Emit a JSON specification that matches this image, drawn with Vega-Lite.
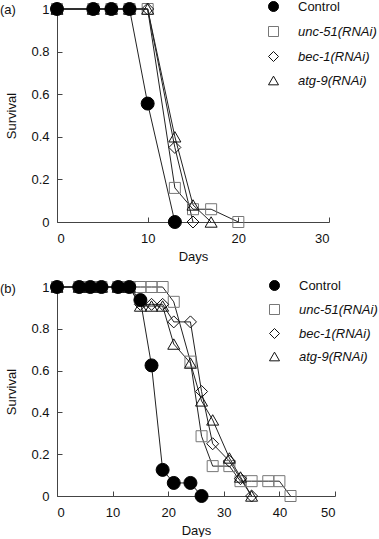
{
  "$schema": "https://vega.github.io/schema/vega-lite/v6.json",
  "padding": {"left": 0, "top": 0, "right": 0, "bottom": 0},
  "spacing": 15,
  "config": {
    "font": "Liberation Sans",
    "view": {"stroke": null},
    "axis": {
      "grid": false,
      "domainColor": "#444",
      "tickColor": "#444",
      "tickSize": -5,
      "labelFontSize": 13,
      "titleFontSize": 13,
      "labelColor": "#111",
      "titleColor": "#111",
      "titleFontWeight": "normal"
    },
    "axisX": {"labelPadding": 15, "titlePadding": 5},
    "axisY": {"labelPadding": 13, "titlePadding": 12},
    "legend": {
      "labelFontSize": 13,
      "labelColor": "#111",
      "padding": 0
    },
    "title": {"fontSize": 13, "fontWeight": "normal", "color": "#111"}
  },
  "datasets": {
    "surv": [
      {"panel": "a", "series": "unc-51(RNAi)", "day": 0, "survival": 1},
      {"panel": "a", "series": "unc-51(RNAi)", "day": 4, "survival": 1},
      {"panel": "a", "series": "unc-51(RNAi)", "day": 6, "survival": 1},
      {"panel": "a", "series": "unc-51(RNAi)", "day": 8, "survival": 1},
      {"panel": "a", "series": "unc-51(RNAi)", "day": 10, "survival": 1},
      {"panel": "a", "series": "unc-51(RNAi)", "day": 13, "survival": 0.16},
      {"panel": "a", "series": "unc-51(RNAi)", "day": 15, "survival": 0.06},
      {"panel": "a", "series": "unc-51(RNAi)", "day": 17, "survival": 0.06},
      {"panel": "a", "series": "unc-51(RNAi)", "day": 20, "survival": 0},
      {"panel": "a", "series": "bec-1(RNAi)", "day": 0, "survival": 1},
      {"panel": "a", "series": "bec-1(RNAi)", "day": 4, "survival": 1},
      {"panel": "a", "series": "bec-1(RNAi)", "day": 6, "survival": 1},
      {"panel": "a", "series": "bec-1(RNAi)", "day": 8, "survival": 1},
      {"panel": "a", "series": "bec-1(RNAi)", "day": 10, "survival": 1},
      {"panel": "a", "series": "bec-1(RNAi)", "day": 13, "survival": 0.35},
      {"panel": "a", "series": "bec-1(RNAi)", "day": 15, "survival": 0},
      {"panel": "a", "series": "atg-9(RNAi)", "day": 0, "survival": 1},
      {"panel": "a", "series": "atg-9(RNAi)", "day": 4, "survival": 1},
      {"panel": "a", "series": "atg-9(RNAi)", "day": 6, "survival": 1},
      {"panel": "a", "series": "atg-9(RNAi)", "day": 8, "survival": 1},
      {"panel": "a", "series": "atg-9(RNAi)", "day": 10, "survival": 1},
      {"panel": "a", "series": "atg-9(RNAi)", "day": 13, "survival": 0.4},
      {"panel": "a", "series": "atg-9(RNAi)", "day": 15, "survival": 0.08},
      {"panel": "a", "series": "atg-9(RNAi)", "day": 17, "survival": 0},
      {"panel": "a", "series": "Control", "day": 0, "survival": 1},
      {"panel": "a", "series": "Control", "day": 4, "survival": 1},
      {"panel": "a", "series": "Control", "day": 6, "survival": 1},
      {"panel": "a", "series": "Control", "day": 8, "survival": 1},
      {"panel": "a", "series": "Control", "day": 10, "survival": 0.556},
      {"panel": "a", "series": "Control", "day": 13, "survival": 0},

      {"panel": "b", "series": "unc-51(RNAi)", "day": 0, "survival": 1},
      {"panel": "b", "series": "unc-51(RNAi)", "day": 4, "survival": 1},
      {"panel": "b", "series": "unc-51(RNAi)", "day": 6, "survival": 1},
      {"panel": "b", "series": "unc-51(RNAi)", "day": 8, "survival": 1},
      {"panel": "b", "series": "unc-51(RNAi)", "day": 11, "survival": 1},
      {"panel": "b", "series": "unc-51(RNAi)", "day": 13, "survival": 1},
      {"panel": "b", "series": "unc-51(RNAi)", "day": 15, "survival": 1},
      {"panel": "b", "series": "unc-51(RNAi)", "day": 17, "survival": 1},
      {"panel": "b", "series": "unc-51(RNAi)", "day": 19, "survival": 1},
      {"panel": "b", "series": "unc-51(RNAi)", "day": 21, "survival": 0.929},
      {"panel": "b", "series": "unc-51(RNAi)", "day": 24, "survival": 0.643},
      {"panel": "b", "series": "unc-51(RNAi)", "day": 26, "survival": 0.286},
      {"panel": "b", "series": "unc-51(RNAi)", "day": 28, "survival": 0.143},
      {"panel": "b", "series": "unc-51(RNAi)", "day": 31, "survival": 0.143},
      {"panel": "b", "series": "unc-51(RNAi)", "day": 33, "survival": 0.071},
      {"panel": "b", "series": "unc-51(RNAi)", "day": 35, "survival": 0.071},
      {"panel": "b", "series": "unc-51(RNAi)", "day": 38, "survival": 0.071},
      {"panel": "b", "series": "unc-51(RNAi)", "day": 40, "survival": 0.071},
      {"panel": "b", "series": "unc-51(RNAi)", "day": 42, "survival": 0},
      {"panel": "b", "series": "bec-1(RNAi)", "day": 0, "survival": 1},
      {"panel": "b", "series": "bec-1(RNAi)", "day": 4, "survival": 1},
      {"panel": "b", "series": "bec-1(RNAi)", "day": 6, "survival": 1},
      {"panel": "b", "series": "bec-1(RNAi)", "day": 8, "survival": 1},
      {"panel": "b", "series": "bec-1(RNAi)", "day": 11, "survival": 1},
      {"panel": "b", "series": "bec-1(RNAi)", "day": 13, "survival": 1},
      {"panel": "b", "series": "bec-1(RNAi)", "day": 15, "survival": 0.917},
      {"panel": "b", "series": "bec-1(RNAi)", "day": 17, "survival": 0.917},
      {"panel": "b", "series": "bec-1(RNAi)", "day": 19, "survival": 0.917},
      {"panel": "b", "series": "bec-1(RNAi)", "day": 21, "survival": 0.833},
      {"panel": "b", "series": "bec-1(RNAi)", "day": 24, "survival": 0.833},
      {"panel": "b", "series": "bec-1(RNAi)", "day": 26, "survival": 0.5},
      {"panel": "b", "series": "bec-1(RNAi)", "day": 28, "survival": 0.25},
      {"panel": "b", "series": "bec-1(RNAi)", "day": 31, "survival": 0.167},
      {"panel": "b", "series": "bec-1(RNAi)", "day": 33, "survival": 0.083},
      {"panel": "b", "series": "bec-1(RNAi)", "day": 35, "survival": 0},
      {"panel": "b", "series": "atg-9(RNAi)", "day": 0, "survival": 1},
      {"panel": "b", "series": "atg-9(RNAi)", "day": 4, "survival": 1},
      {"panel": "b", "series": "atg-9(RNAi)", "day": 6, "survival": 1},
      {"panel": "b", "series": "atg-9(RNAi)", "day": 8, "survival": 1},
      {"panel": "b", "series": "atg-9(RNAi)", "day": 11, "survival": 1},
      {"panel": "b", "series": "atg-9(RNAi)", "day": 13, "survival": 1},
      {"panel": "b", "series": "atg-9(RNAi)", "day": 15, "survival": 0.909},
      {"panel": "b", "series": "atg-9(RNAi)", "day": 17, "survival": 0.909},
      {"panel": "b", "series": "atg-9(RNAi)", "day": 19, "survival": 0.909},
      {"panel": "b", "series": "atg-9(RNAi)", "day": 21, "survival": 0.727},
      {"panel": "b", "series": "atg-9(RNAi)", "day": 24, "survival": 0.636},
      {"panel": "b", "series": "atg-9(RNAi)", "day": 26, "survival": 0.455},
      {"panel": "b", "series": "atg-9(RNAi)", "day": 28, "survival": 0.364},
      {"panel": "b", "series": "atg-9(RNAi)", "day": 31, "survival": 0.182},
      {"panel": "b", "series": "atg-9(RNAi)", "day": 33, "survival": 0.091},
      {"panel": "b", "series": "atg-9(RNAi)", "day": 35, "survival": 0},
      {"panel": "b", "series": "Control", "day": 0, "survival": 1},
      {"panel": "b", "series": "Control", "day": 4, "survival": 1},
      {"panel": "b", "series": "Control", "day": 6, "survival": 1},
      {"panel": "b", "series": "Control", "day": 8, "survival": 1},
      {"panel": "b", "series": "Control", "day": 11, "survival": 1},
      {"panel": "b", "series": "Control", "day": 13, "survival": 1},
      {"panel": "b", "series": "Control", "day": 15, "survival": 0.9375},
      {"panel": "b", "series": "Control", "day": 17, "survival": 0.625},
      {"panel": "b", "series": "Control", "day": 19, "survival": 0.125},
      {"panel": "b", "series": "Control", "day": 21, "survival": 0.0625},
      {"panel": "b", "series": "Control", "day": 24, "survival": 0.0625},
      {"panel": "b", "series": "Control", "day": 26, "survival": 0}
    ]
  },
  "resolve": {
    "scale": {"x": "independent", "shape": "independent", "fill": "independent", "stroke": "independent"},
    "legend": {"shape": "independent", "fill": "independent", "stroke": "independent"}
  },
  "vconcat": [
    {
      "width": 272,
      "height": 213,
      "title": {"text": "(a)", "anchor": "start", "frame": "group", "dx": -57, "offset": -23, "baseline": "middle"},
      "data": {"name": "surv"},
      "transform": [{"filter": "datum.panel == 'a'"}],
      "encoding": {
        "x": {"field": "day", "type": "quantitative", "scale": {"domain": [0, 30], "nice": false}, "axis": {"title": "Days", "values": [0, 10, 20, 30]}},
        "y": {"field": "survival", "type": "quantitative", "scale": {"domain": [0, 1], "nice": false}, "axis": {"title": "Survival", "values": [0, 0.2, 0.4, 0.6, 0.8, 1], "labelExpr": "datum.value == 0 ? '0' : datum.value == 1 ? '1' : format(datum.value, '.1f')"}}
      },
      "layer": [
        {
          "mark": {"type": "line", "color": "#222", "strokeWidth": 1},
          "encoding": {"detail": {"field": "series", "type": "nominal"}}
        },
        {
          "mark": {"type": "point", "opacity": 1, "strokeWidth": 1},
          "encoding": {
            "shape": {"field": "series", "type": "nominal",
              "scale": {"domain": ["Control", "unc-51(RNAi)", "bec-1(RNAi)", "atg-9(RNAi)"], "range": ["circle", "square", "diamond", "triangle-up"]},
              "legend": {"title": null, "orient": "none", "legendX": 210, "legendY": -9, "symbolSize": 100, "symbolStrokeWidth": 1, "labelOffset": 18, "rowPadding": 10, "labelFontStyle": {"expr": "datum.value == 'Control' ? 'normal' : 'italic'"}}
            },
            "fill": {"field": "series", "type": "nominal",
              "scale": {"domain": ["Control", "unc-51(RNAi)", "bec-1(RNAi)", "atg-9(RNAi)"], "range": ["#000000", "transparent", "transparent", "transparent"]},
              "legend": {"title": null, "orient": "none", "legendX": 210, "legendY": -9, "symbolSize": 100, "symbolStrokeWidth": 1, "labelOffset": 18, "rowPadding": 10, "labelFontStyle": {"expr": "datum.value == 'Control' ? 'normal' : 'italic'"}}
            },
            "stroke": {"field": "series", "type": "nominal",
              "scale": {"domain": ["Control", "unc-51(RNAi)", "bec-1(RNAi)", "atg-9(RNAi)"], "range": ["#000000", "#777777", "#111111", "#111111"]},
              "legend": {"title": null, "orient": "none", "legendX": 210, "legendY": -9, "symbolSize": 100, "symbolStrokeWidth": 1, "labelOffset": 18, "rowPadding": 10, "labelFontStyle": {"expr": "datum.value == 'Control' ? 'normal' : 'italic'"}}
            },
            "size": {"condition": [{"test": "datum.series == 'Control'", "value": 169}, {"test": "datum.series == 'unc-51(RNAi)'", "value": 121}], "value": 144}
          }
        }
      ]
    },
    {
      "width": 278,
      "height": 209,
      "title": {"text": "(b)", "anchor": "start", "frame": "group", "dx": -57, "offset": -23, "baseline": "middle"},
      "data": {"name": "surv"},
      "transform": [{"filter": "datum.panel == 'b'"}],
      "encoding": {
        "x": {"field": "day", "type": "quantitative", "scale": {"domain": [0, 50], "nice": false}, "axis": {"title": "Days", "values": [0, 10, 20, 30, 40, 50]}},
        "y": {"field": "survival", "type": "quantitative", "scale": {"domain": [0, 1], "nice": false}, "axis": {"title": "Survival", "values": [0, 0.2, 0.4, 0.6, 0.8, 1], "labelExpr": "datum.value == 0 ? '0' : datum.value == 1 ? '1' : format(datum.value, '.1f')"}}
      },
      "layer": [
        {
          "mark": {"type": "line", "color": "#222", "strokeWidth": 1},
          "encoding": {"detail": {"field": "series", "type": "nominal"}}
        },
        {
          "mark": {"type": "point", "opacity": 1, "strokeWidth": 1},
          "encoding": {
            "shape": {"field": "series", "type": "nominal",
              "scale": {"domain": ["Control", "unc-51(RNAi)", "bec-1(RNAi)", "atg-9(RNAi)"], "range": ["circle", "square", "diamond", "triangle-up"]},
              "legend": {"title": null, "orient": "none", "legendX": 211, "legendY": -8, "symbolSize": 100, "symbolStrokeWidth": 1, "labelOffset": 18, "rowPadding": 9, "labelFontStyle": {"expr": "datum.value == 'Control' ? 'normal' : 'italic'"}}
            },
            "fill": {"field": "series", "type": "nominal",
              "scale": {"domain": ["Control", "unc-51(RNAi)", "bec-1(RNAi)", "atg-9(RNAi)"], "range": ["#000000", "transparent", "transparent", "transparent"]},
              "legend": {"title": null, "orient": "none", "legendX": 211, "legendY": -8, "symbolSize": 100, "symbolStrokeWidth": 1, "labelOffset": 18, "rowPadding": 9, "labelFontStyle": {"expr": "datum.value == 'Control' ? 'normal' : 'italic'"}}
            },
            "stroke": {"field": "series", "type": "nominal",
              "scale": {"domain": ["Control", "unc-51(RNAi)", "bec-1(RNAi)", "atg-9(RNAi)"], "range": ["#000000", "#777777", "#111111", "#111111"]},
              "legend": {"title": null, "orient": "none", "legendX": 211, "legendY": -8, "symbolSize": 100, "symbolStrokeWidth": 1, "labelOffset": 18, "rowPadding": 9, "labelFontStyle": {"expr": "datum.value == 'Control' ? 'normal' : 'italic'"}}
            },
            "size": {"condition": [{"test": "datum.series == 'Control'", "value": 169}, {"test": "datum.series == 'unc-51(RNAi)'", "value": 121}], "value": 144}
          }
        }
      ]
    }
  ]
}
